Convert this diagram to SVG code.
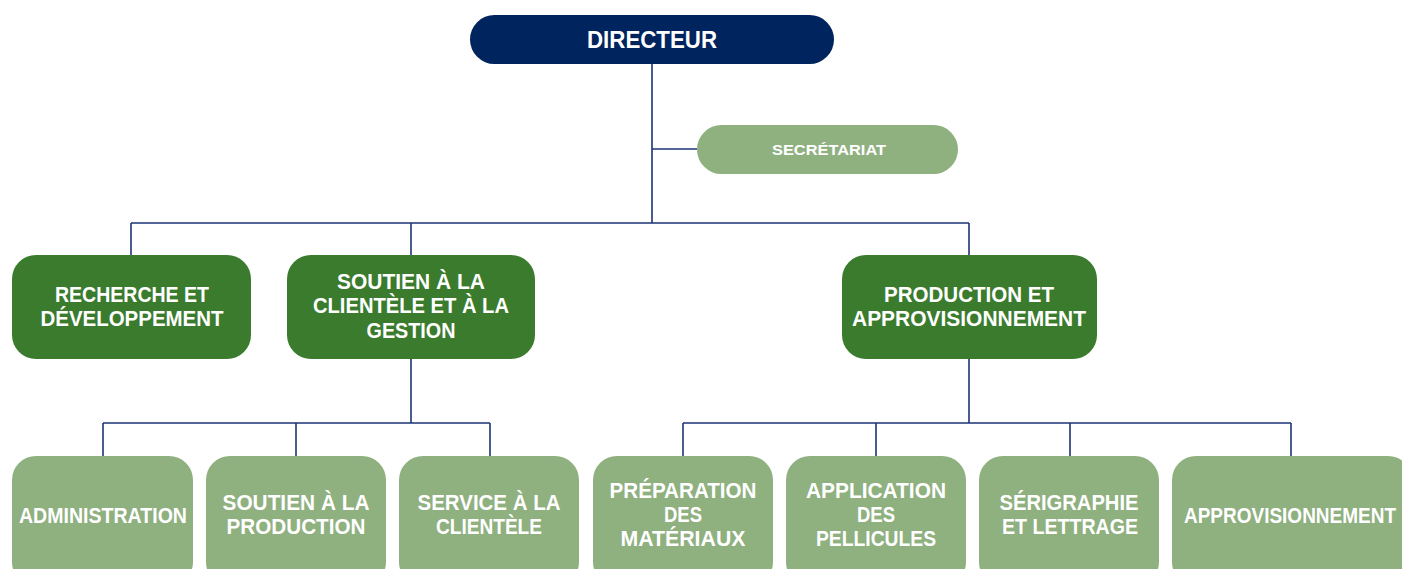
<svg xmlns="http://www.w3.org/2000/svg" width="1402" height="569" viewBox="0 0 1402 569">
<style>
text{font-family:"Liberation Sans",Arial,sans-serif;font-weight:bold;fill:#fff;text-anchor:middle}
.t1{font-size:23.5px}
.t2{font-size:21.5px}
.t3{font-size:21.5px}
.ts{font-size:15px}
.dir{fill:#00245d}
.dk{fill:#3a7b2d}
.lt{fill:#8fb07f}
.con{stroke:#1c3575;stroke-width:1.6;fill:none}
</style>
<rect width="1402" height="569" fill="#fff"/>
<g id="connectors" class="con">
<path d="M652 64V223M652 149H697M131 223H969M131 223V256M411 223V256M969 223V256"/>
<path d="M411 359V423M103 423H490M103 423V457M296 423V457M490 423V457"/>
<path d="M969 359V423M683 423H1291M683 423V457M876 423V457M1070 423V457M1291 423V457"/>
</g>
<g id="n-directeur"><rect class="dir" x="470" y="15" width="364" height="49" rx="24.5"/><text class="t1" x="652" y="47.5" textLength="130" lengthAdjust="spacingAndGlyphs">DIRECTEUR</text></g>
<g id="n-secretariat"><rect class="lt" x="697" y="125" width="261" height="49" rx="24.5"/><text class="ts" x="829" y="155" textLength="114" lengthAdjust="spacingAndGlyphs">SECRÉTARIAT</text></g>
<g id="n-recherche"><rect class="dk" x="12" y="255" width="239" height="104" rx="24"/><text class="t2" x="132" y="301.5" textLength="154" lengthAdjust="spacingAndGlyphs">RECHERCHE ET</text><text class="t2" x="132" y="325.5" textLength="183" lengthAdjust="spacingAndGlyphs">DÉVELOPPEMENT</text></g>
<g id="n-soutien"><rect class="dk" x="287" y="255" width="248" height="104" rx="24"/><text class="t2" x="411" y="289" textLength="148" lengthAdjust="spacingAndGlyphs">SOUTIEN À LA</text><text class="t2" x="411" y="313" textLength="196" lengthAdjust="spacingAndGlyphs">CLIENTÈLE ET À LA</text><text class="t2" x="411" y="337.5" textLength="89" lengthAdjust="spacingAndGlyphs">GESTION</text></g>
<g id="n-production"><rect class="dk" x="842" y="255" width="255" height="104" rx="24"/><text class="t2" x="969" y="301.5" textLength="170" lengthAdjust="spacingAndGlyphs">PRODUCTION ET</text><text class="t2" x="969" y="325.5" textLength="234" lengthAdjust="spacingAndGlyphs">APPROVISIONNEMENT</text></g>
<g id="n-administration"><rect class="lt" x="12" y="456" width="181" height="130" rx="24"/><text class="t3" x="103" y="522.5" textLength="168" lengthAdjust="spacingAndGlyphs">ADMINISTRATION</text></g>
<g id="n-soutien-prod"><rect class="lt" x="206" y="456" width="180" height="130" rx="24"/><text class="t3" x="296" y="510" textLength="147" lengthAdjust="spacingAndGlyphs">SOUTIEN À LA</text><text class="t3" x="296" y="534" textLength="139" lengthAdjust="spacingAndGlyphs">PRODUCTION</text></g>
<g id="n-service"><rect class="lt" x="399" y="456" width="180" height="130" rx="24"/><text class="t3" x="489" y="510" textLength="143" lengthAdjust="spacingAndGlyphs">SERVICE À LA</text><text class="t3" x="489" y="534" textLength="106" lengthAdjust="spacingAndGlyphs">CLIENTÈLE</text></g>
<g id="n-preparation"><rect class="lt" x="593" y="456" width="180" height="130" rx="24"/><text class="t3" x="683" y="498" textLength="147" lengthAdjust="spacingAndGlyphs">PRÉPARATION</text><text class="t3" x="683" y="522" textLength="38" lengthAdjust="spacingAndGlyphs">DES</text><text class="t3" x="683" y="546" textLength="125" lengthAdjust="spacingAndGlyphs">MATÉRIAUX</text></g>
<g id="n-application"><rect class="lt" x="786" y="456" width="180" height="130" rx="24"/><text class="t3" x="876" y="498" textLength="140" lengthAdjust="spacingAndGlyphs">APPLICATION</text><text class="t3" x="876" y="522" textLength="38" lengthAdjust="spacingAndGlyphs">DES</text><text class="t3" x="876" y="546" textLength="120" lengthAdjust="spacingAndGlyphs">PELLICULES</text></g>
<g id="n-serigraphie"><rect class="lt" x="979" y="456" width="180" height="130" rx="24"/><text class="t3" x="1069" y="510" textLength="139" lengthAdjust="spacingAndGlyphs">SÉRIGRAPHIE</text><text class="t3" x="1070" y="534" textLength="136" lengthAdjust="spacingAndGlyphs">ET LETTRAGE</text></g>
<g id="n-approvisionnement"><rect class="lt" x="1172" y="456" width="240" height="130" rx="24"/><text class="t3" x="1290" y="522.5" textLength="212" lengthAdjust="spacingAndGlyphs">APPROVISIONNEMENT</text></g>
</svg>
